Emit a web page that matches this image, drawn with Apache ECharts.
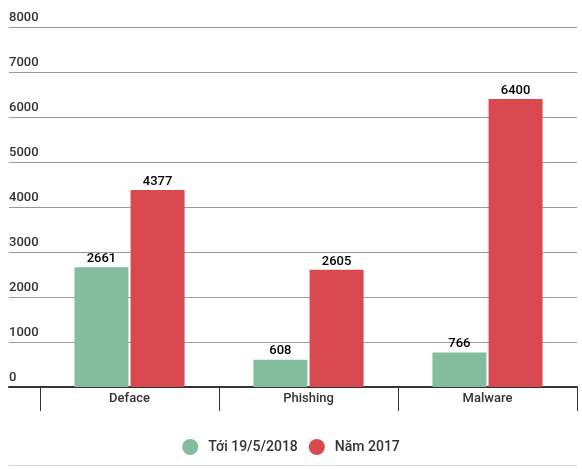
<!DOCTYPE html>
<html>
<head>
<meta charset="utf-8">
<script src="https://cdn.jsdelivr.net/npm/echarts@6/dist/echarts.min.js"></script>
<style>
  html, body { margin: 0; padding: 0; background: #fff; }
  #chart { width: 582px; height: 469px; }
</style>
</head>
<body>
<div id="chart"></div>
<script>
// dữ liệu
var categories = ['Deface', 'Phishing', 'Malware'];
var seriesNames = ['Tới 19/5/2018', 'Năm 2017'];
var values2018 = [2661, 608, 766];
var values2017 = [4377, 2605, 6400];
var yTicks = [0, 1000, 2000, 3000, 4000, 5000, 6000, 7000, 8000];

var colors = ['#83bd9d', '#d9494f'];
var fontFamily = 'Roboto, "Noto Sans", sans-serif';

var myChart = echarts.init(document.getElementById('chart'));

var labelStyle = {
    show: true,
    position: 'top',
    distance: 2,
    color: '#000',
    fontWeight: 500,
    fontSize: 13,
    fontFamily: fontFamily
};

var option = {
    animation: false,
    color: colors,
    legend: {
        data: seriesNames,
        top: 434,
        left: 'center',
        icon: 'circle',
        itemWidth: 16,
        itemHeight: 16,
        itemGap: 11,
        textStyle: { color: '#333', fontSize: 14, fontWeight: 500, fontFamily: fontFamily, padding: [0, 0, 0, 5] }
    },
    grid: [
        { left: 9, right: 5, top: 27, bottom: 82 },
        { left: 40, right: 5, top: 27, bottom: 82 }
    ],
    xAxis: [
        {
            gridIndex: 0,
            type: 'category',
            data: [''],
            axisLine: { show: true, lineStyle: { color: '#333', width: 2 } },
            axisTick: { show: false },
            axisLabel: { show: false }
        },
        {
            gridIndex: 1,
            type: 'category',
            data: categories,
            axisLine: { show: false },
            axisTick: { show: true, length: 24, lineStyle: { color: '#333', width: 1 } },
            axisLabel: { color: '#333', fontSize: 13, fontWeight: 500, fontFamily: fontFamily, margin: 5 }
        }
    ],
    yAxis: [
        {
            gridIndex: 0,
            type: 'value',
            min: yTicks[0],
            max: yTicks[yTicks.length - 1],
            interval: yTicks[1] - yTicks[0],
            axisLine: { show: false },
            axisTick: { show: false },
            splitLine: { lineStyle: { color: '#999', width: 1 } },
            axisLabel: {
                inside: true,
                margin: 0,
                verticalAlign: 'bottom',
                padding: [0, 0, 3, 0],
                color: '#333',
                fontSize: 13,
                fontWeight: 500,
                fontFamily: fontFamily,
                formatter: function (v) { return String(v); }
            }
        },
        {
            gridIndex: 1,
            type: 'value',
            min: yTicks[0],
            max: yTicks[yTicks.length - 1],
            interval: yTicks[1] - yTicks[0],
            show: false
        }
    ],
    graphic: [
        {
            type: 'line',
            shape: { x1: 9, y1: 465.5, x2: 577, y2: 465.5 },
            style: { stroke: '#d6d6d6', lineWidth: 1 }
        }
    ],
    series: [
        {
            name: seriesNames[0],
            type: 'bar',
            xAxisIndex: 1,
            yAxisIndex: 1,
            barWidth: 54,
            barGap: '4%',
            data: values2018,
            label: labelStyle
        },
        {
            name: seriesNames[1],
            type: 'bar',
            xAxisIndex: 1,
            yAxisIndex: 1,
            barWidth: 54,
            barGap: '4%',
            data: values2017,
            label: labelStyle
        }
    ]
};
myChart.setOption(option);
</script>
</body>
</html>
